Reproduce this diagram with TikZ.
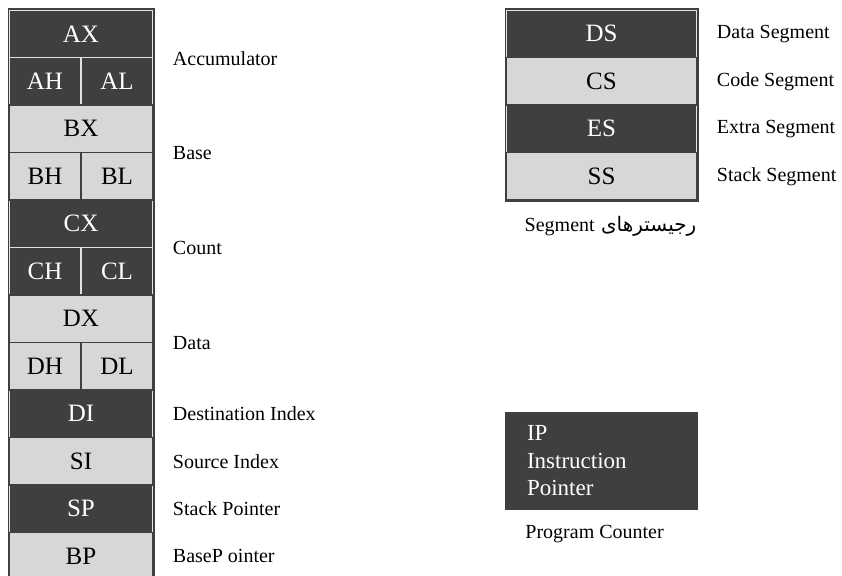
\documentclass[tikz,border=0pt]{standalone}
\usepackage{fontspec}
\setmainfont{Liberation Serif}
\newfontfamily\arabicfont[Script=Arabic]{DejaVu Sans}
\TeXXeTstate=1
\usepackage{xcolor}
\usepackage{tikz}
\usetikzlibrary{positioning}

\definecolor{regdark}{HTML}{3F3F3F}
\definecolor{reglight}{HTML}{D7D7D7}
\definecolor{regline}{HTML}{E2E2E2}

\tikzset{
  darkreg/.style={draw=regline, line width=1.5pt, fill=regdark, text=white,
    minimum height=47.5pt, inner sep=0pt, font=\fontsize{25}{30}\selectfont},
  lightreg/.style={draw=regdark, line width=1.5pt, fill=reglight, text=black,
    minimum height=47.5pt, inner sep=0pt, font=\fontsize{25}{30}\selectfont},
  full/.style={minimum width=144pt},
  half/.style={minimum width=72pt},
  seg/.style={minimum width=191pt},
  lbl/.style={anchor=west, inner sep=0pt, font=\fontsize{20}{24}\selectfont}
}

\begin{document}
\begin{tikzpicture}[x=1pt, y=-1pt]
      \useasboundingbox (0,0) rectangle (842,575);

      % General purpose registers (dark rows)
      \node[darkreg, full] (ax) at (81, 33.75) {AX};
      \node[darkreg, half] (ah) at (45, 81.25) {AH};
      \node[darkreg, half] (al) at (117, 81.25) {AL};
      \node[darkreg, full] (cx) at (81, 223.75) {CX};
      \node[darkreg, half] (ch) at (45, 271.25) {CH};
      \node[darkreg, half] (cl) at (117, 271.25) {CL};
      \node[darkreg, full] (di) at (81, 413.75) {DI};
      \node[darkreg, full] (sp) at (81, 508.75) {SP};

      % General purpose registers (light rows)
      \node[lightreg, full] (bx) at (81, 128.75) {BX};
      \node[lightreg, half] (bh) at (45, 176.25) {BH};
      \node[lightreg, half] (bl) at (117, 176.25) {BL};
      \node[lightreg, full] (dx) at (81, 318.75) {DX};
      \node[lightreg, half] (dh) at (45, 366.25) {DH};
      \node[lightreg, half] (dl) at (117, 366.25) {DL};
      \node[lightreg, full] (si) at (81, 461.25) {SI};
      \node[lightreg, full] (bp) at (81, 556.25) {BP};

      % Outer frame
      \draw[regdark, line width=1.5pt] (ax.north west) rectangle (bp.south east);

      % Names
      \node[lbl, right=19pt of ax.south east] (accu) {Accumulator};
      \node[lbl, right=19pt of bx.south east] (base) {Base};
      \node[lbl, right=19pt of cx.south east] (count) {Count};
      \node[lbl, right=19pt of dx.south east] (data) {Data};
      \node[lbl, right=19pt of di.east] (dest) {Destination Index};
      \node[lbl, right=19pt of si.east] (src) {Source Index};
      \node[lbl, right=19pt of sp.east] (stack) {Stack Pointer};
      \node[lbl, right=19pt of bp.east] (basep) {BaseP ointer};

      % Segment registers
      \node[darkreg, seg] (ds) at (601.5, 33.75) {DS};
      \node[darkreg, seg] (es) at (601.5, 128.75) {ES};
      \node[lightreg, seg] (cs) at (601.5, 81.25) {CS};
      \node[lightreg, seg] (ss) at (601.5, 176.25) {SS};
      \draw[regdark, line width=1.5pt] (ds.north west) rectangle (ss.south east);

      \node[lbl, right=19pt of ds.east] (dseg) {Data Segment};
      \node[lbl, right=19pt of cs.east] (cseg) {Code Segment};
      \node[lbl, right=19pt of es.east] (eseg) {Extra Segment};
      \node[lbl, right=19pt of ss.east] (sseg) {Stack Segment};

      \node[below=15pt of ss, xshift=9pt, inner sep=0pt, font=\fontsize{20}{24}\selectfont] (segcap)
        {\arabicfont\beginR رجیسترهای {\beginL\rmfamily Segment\endL}\endR};

      % Instruction pointer
      \node[draw=regdark, line width=1.5pt, fill=regdark, text=white, align=left,
        minimum width=191pt, minimum height=96pt, text width=149pt, inner xsep=21pt,
        font=\fontsize{23}{27.5}\selectfont] (ip) at (601.5, 461) {IP\\Instruction\\Pointer};
      \node[lbl, anchor=north west] (pc) at ([xshift=20pt, yshift=-15pt]ip.south west) {Program Counter};
    \end{tikzpicture}
\end{document}
